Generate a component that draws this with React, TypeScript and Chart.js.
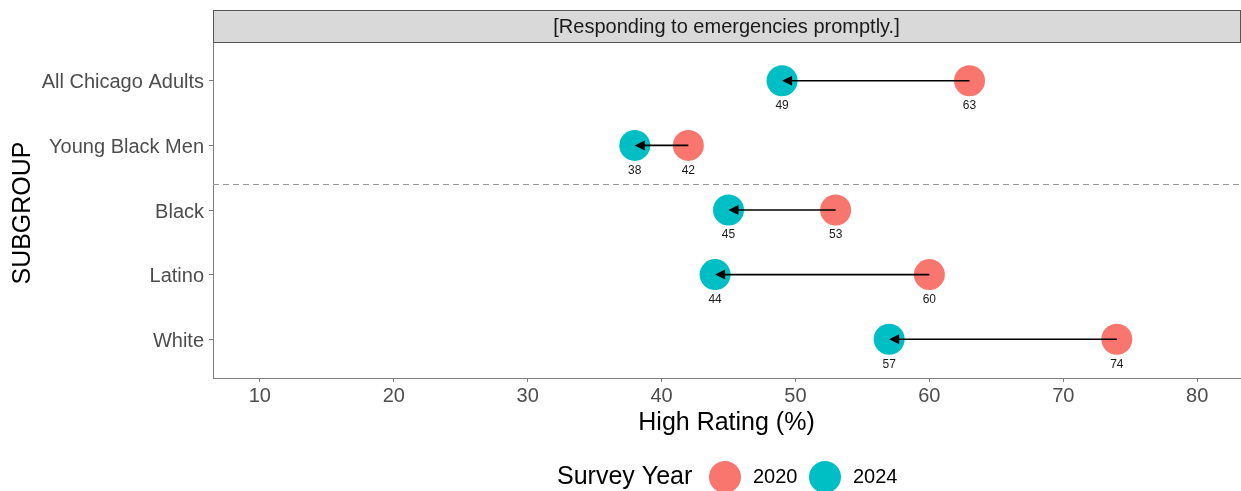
import React, { useEffect, useRef } from "react";
import { Chart, registerables } from "chart.js";

Chart.register(...registerables);

const categories = ["All Chicago Adults", "Young Black Men", "Black", "Latino", "White"];
const values2020 = [63, 42, 53, 60, 74];
const values2024 = [49, 38, 45, 44, 57];
const xTicks = [10, 20, 30, 40, 50, 60, 70, 80];
const legendYears = ["2020", "2024"];
const dividerPosition = 1.6;
const panelTitle = "[Responding to emergencies promptly.]";
const xTitle = "High Rating (%)";
const yTitle = "SUBGROUP";
const legendTitle = "Survey Year";

const RED = "#F8766D";
const TEAL = "#00BFC4";
const FONT = '"Liberation Sans", Arial, Helvetica, sans-serif';

const W = 1241;
const H = 491;

export default function App() {
  const ref = useRef<HTMLCanvasElement | null>(null);

  useEffect(() => {
    document.body.style.margin = "0";
    const canvas = ref.current;
    if (!canvas) return;

    const overlay = {
      id: "overlay",
      beforeDatasetsDraw(chart: any) {
        const { ctx, chartArea, scales } = chart;
        const y = scales.y.getPixelForValue(dividerPosition);
        ctx.save();
        ctx.strokeStyle = "#9a9a9a";
        ctx.lineWidth = 1;
        ctx.setLineDash([6, 4]);
        ctx.beginPath();
        ctx.moveTo(chartArea.left, Math.round(y) + 0.5);
        ctx.lineTo(chartArea.right, Math.round(y) + 0.5);
        ctx.stroke();
        ctx.restore();
      },
      afterDatasetsDraw(chart: any) {
        const { ctx, scales } = chart;
        const xs = scales.x;
        const ys = scales.y;
        ctx.save();
        categories.forEach((_, i) => {
          const py = ys.getPixelForValue(i);
          const x0 = xs.getPixelForValue(values2020[i]);
          const x1 = xs.getPixelForValue(values2024[i]);
          const dir = x1 < x0 ? -1 : 1;
          const len = 10;
          const hw = 5;
          ctx.strokeStyle = "#000";
          ctx.lineWidth = 1.6;
          ctx.beginPath();
          ctx.moveTo(x0, py);
          ctx.lineTo(x1 - dir * len * 0.8, py);
          ctx.stroke();
          ctx.fillStyle = "#000";
          ctx.beginPath();
          ctx.moveTo(x1, py);
          ctx.lineTo(x1 - dir * len, py - hw);
          ctx.lineTo(x1 - dir * len, py + hw);
          ctx.closePath();
          ctx.fill();
          // value labels
          ctx.fillStyle = "#1a1a1a";
          ctx.font = `12px ${FONT}`;
          ctx.textAlign = "center";
          ctx.textBaseline = "middle";
          ctx.fillText(String(values2020[i]), x0, py + 25);
          ctx.fillText(String(values2024[i]), x1, py + 25);
        });
        ctx.restore();
      },
      afterDraw(chart: any) {
        const { ctx, chartArea } = chart;
        ctx.save();
        // strip
        const sx = chartArea.left;
        const sw = chartArea.right - chartArea.left;
        ctx.fillStyle = "#D9D9D9";
        ctx.fillRect(sx, 10, sw, 32);
        ctx.strokeStyle = "#555";
        ctx.lineWidth = 1;
        ctx.strokeRect(sx + 0.5, 10.5, sw, 32);
        ctx.fillStyle = "#1a1a1a";
        ctx.font = `20px ${FONT}`;
        ctx.textAlign = "center";
        ctx.textBaseline = "middle";
        ctx.fillText(panelTitle, sx + sw / 2, 27);

        // x title
        ctx.fillStyle = "#000";
        ctx.font = `25px ${FONT}`;
        ctx.fillText(xTitle, (chartArea.left + chartArea.right) / 2, 423);

        // y title
        ctx.save();
        ctx.translate(23, (chartArea.top + chartArea.bottom) / 2 + 3);
        ctx.rotate(-Math.PI / 2);
        ctx.fillText(yTitle, 0, 0);
        ctx.restore();

        // legend
        const ly = 477;
        ctx.textAlign = "left";
        ctx.font = `25px ${FONT}`;
        ctx.fillText(legendTitle, 557, ly);
        const colors = [RED, TEAL];
        const cx = [725, 825];
        legendYears.forEach((yr, i) => {
          ctx.fillStyle = colors[i];
          ctx.beginPath();
          ctx.arc(cx[i], ly, 16, 0, Math.PI * 2);
          ctx.fill();
          ctx.fillStyle = "#000";
          ctx.font = `20px ${FONT}`;
          ctx.fillText(yr, cx[i] + 28, ly);
        });
        ctx.restore();
      },
    };

    const chart = new Chart(canvas, {
      type: "scatter",
      data: {
        datasets: [
          {
            label: legendYears[0],
            data: values2020.map((v, i) => ({ x: v, y: i })),
            backgroundColor: RED,
            borderWidth: 0,
            pointRadius: 15.5,
            pointHoverRadius: 15.5,
          },
          {
            label: legendYears[1],
            data: values2024.map((v, i) => ({ x: v, y: i })),
            backgroundColor: TEAL,
            borderWidth: 0,
            pointRadius: 15.5,
            pointHoverRadius: 15.5,
          },
        ],
      },
      options: {
        animation: false,
        responsive: false,
        events: [],
        layout: { autoPadding: false, padding: { top: 42, right: 1, left: 0, bottom: 0 } },
        plugins: {
          legend: { display: false },
          tooltip: { enabled: false },
        },
        scales: {
          x: {
            type: "linear",
            min: 6.5,
            max: 83.2,
            afterBuildTicks: (s: any) => {
              s.ticks = xTicks.map((v) => ({ value: v }));
            },
            afterFit: (s: any) => {
              s.height = H - 378;
              s.paddingLeft = 0;
              s.paddingRight = 0;
              s.paddingTop = 0;
              s.paddingBottom = 0;
            },
            grid: {
              display: true,
              drawOnChartArea: false,
              drawTicks: true,
              tickLength: 4,
              color: "#7f7f7f",
            },
            border: { display: true, color: "#7f7f7f", width: 1 },
            ticks: {
              color: "#4d4d4d",
              font: { family: FONT, size: 20 },
              padding: 2,
              maxRotation: 0,
              autoSkip: false,
            },
          },
          y: {
            type: "linear",
            reverse: true,
            min: -0.6,
            max: 4.6,
            afterBuildTicks: (s: any) => {
              s.ticks = categories.map((_, i) => ({ value: i }));
            },
            afterFit: (s: any) => {
              s.width = 213;
              s.paddingLeft = 0;
              s.paddingRight = 0;
              s.paddingTop = 0;
              s.paddingBottom = 0;
            },
            grid: {
              display: true,
              drawOnChartArea: false,
              drawTicks: true,
              tickLength: 4,
              color: "#7f7f7f",
            },
            border: { display: true, color: "#7f7f7f", width: 1 },
            ticks: {
              color: "#4d4d4d",
              font: { family: FONT, size: 20 },
              padding: 5,
              labelOffset: 2,
              autoSkip: false,
              callback: (v: any) => categories[Number(v)] ?? "",
            },
          },
        },
      },
      plugins: [overlay],
    } as any);

    return () => chart.destroy();
  }, []);

  return (
    <div style={{ width: W, height: H, background: "#fff" }}>
      <canvas ref={ref} width={W} height={H} style={{ width: W, height: H, display: "block" }} />
    </div>
  );
}
